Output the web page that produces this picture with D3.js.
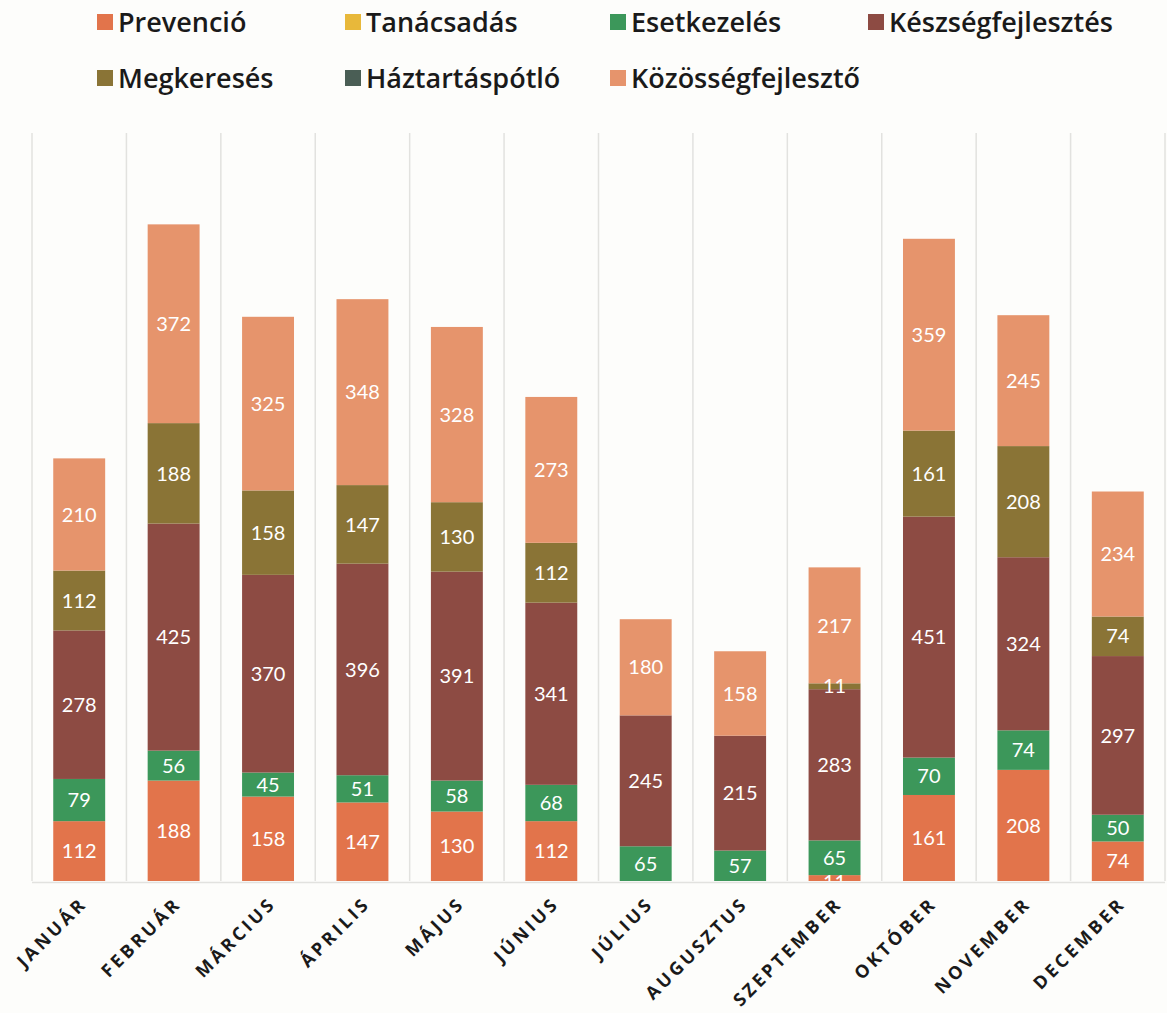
<!DOCTYPE html>
<html>
<head>
<meta charset="utf-8">
<script src="https://cdn.jsdelivr.net/npm/d3@7"></script>
<style>
  html, body { margin: 0; padding: 0; background: #fdfdfb; }
  svg { display: block; }
</style>
</head>
<body>
<svg id="chart" width="1167" height="1013"></svg>
<script>
const months = ["JANUÁR","FEBRUÁR","MÁRCIUS","ÁPRILIS","MÁJUS","JÚNIUS","JÚLIUS","AUGUSZTUS","SZEPTEMBER","OKTÓBER","NOVEMBER","DECEMBER"];
const seriesNames = ["Prevenció","Tanácsadás","Esetkezelés","Készségfejlesztés","Megkeresés","Háztartáspótló","Közösségfejlesztő"];
const prevencio     = [112,188,158,147,130,112,0,0,11,161,208,74];
const tanacsadas    = [0,0,0,0,0,0,0,0,0,0,0,0];
const esetkezeles   = [79,56,45,51,58,68,65,57,65,70,74,50];
const keszseg       = [278,425,370,396,391,341,245,215,283,451,324,297];
const megkereses    = [112,188,158,147,130,112,0,0,11,161,208,74];
const haztartas     = [0,0,0,0,0,0,0,0,0,0,0,0];
const kozosseg      = [210,372,325,348,328,273,180,158,217,359,245,234];
const colors = ["#e2744b","#e8b83a","#3c975a","#8d4b43","#8a7436","#4a5e55","#e6946c"];

const seriesValues = [prevencio,tanacsadas,esetkezeles,keszseg,megkereses,haztartas,kozosseg];
const table = months.map((m,i) => {
  const row = {month: m};
  seriesNames.forEach((s,j) => row[s] = seriesValues[j][i]);
  return row;
});

const svg = d3.select("#chart");
const x = d3.scaleBand().domain(months).range([32, 1165]).paddingInner(0.45).paddingOuter(0.225);
const y = d3.scaleLinear().domain([0, 1400]).range([881, 133]);
const color = d3.scaleOrdinal().domain(seriesNames).range(colors);

svg.append("defs").append("clipPath").attr("id", "plotClip")
  .append("rect").attr("x", 0).attr("y", 0).attr("width", 1167).attr("height", y(0));

// vertical gridlines (category separators)
const bounds = d3.range(months.length + 1).map(i => 32 + i * (1133 / months.length));
svg.append("g").selectAll("line").data(bounds).join("line")
  .attr("x1", d => d).attr("x2", d => d)
  .attr("y1", y(1400)).attr("y2", y(0))
  .attr("stroke", "#e2e2df").attr("stroke-width", 1.5);

// baseline
svg.append("line").attr("x1", 32).attr("x2", 1165).attr("y1", y(0) + 1.5).attr("y2", y(0) + 1.5)
  .attr("stroke", "#e2e2df").attr("stroke-width", 1.5);

const stack = d3.stack().keys(seriesNames)(table);

const layers = svg.append("g").selectAll("g").data(stack).join("g")
  .attr("fill", d => color(d.key));
layers.selectAll("rect").data(d => d).join("rect")
  .attr("x", d => x(d.data.month))
  .attr("width", x.bandwidth())
  .attr("y", d => y(d[1]))
  .attr("height", d => y(d[0]) - y(d[1]));

// value labels
const labels = svg.append("g").attr("clip-path", "url(#plotClip)");
stack.forEach(layer => {
  layer.forEach(d => {
    const v = d[1] - d[0];
    if (v <= 0) return;
    const small = (y(d[0]) - y(d[1])) < 14;
    labels.append("text")
      .attr("x", x(d.data.month) + x.bandwidth() / 2)
      .attr("y", (y(d[0]) + y(d[1])) / 2 + (small && d[0] === 0 ? 4 : 0))
      .attr("dy", "0.36em")
      .attr("text-anchor", "middle")
      .attr("fill", "#ffffff")
      .attr("font-family", "Lato, 'Open Sans', sans-serif")
      .attr("font-size", 20)
      .text(v);
  });
});

// x axis labels
const xAxis = svg.append("g").attr("transform", `translate(0, ${y(0) + 20})`)
  .call(d3.axisBottom(x).tickSize(0).tickPadding(0));
xAxis.select(".domain").remove();
xAxis.selectAll("text")
  .attr("font-family", "'Open Sans', sans-serif")
  .attr("font-weight", 700)
  .attr("font-size", 18)
  .attr("letter-spacing", "3.2px")
  .attr("fill", "#1a1a1a")
  .attr("text-anchor", "end")
  .attr("dy", "0.5em")
  .attr("dx", "0.2em")
  .attr("transform", "rotate(-45)");

// legend
const legendPos = [
  {x: 97, y: 22}, {x: 345, y: 22}, {x: 610, y: 22}, {x: 868, y: 22},
  {x: 97, y: 78}, {x: 345, y: 78}, {x: 610, y: 78}
];
const legend = svg.append("g");
seriesNames.forEach((s, i) => {
  const p = legendPos[i];
  const g = legend.append("g").attr("transform", `translate(${p.x},${p.y})`);
  g.append("rect").attr("x", 0).attr("y", -8).attr("width", 16).attr("height", 16).attr("fill", colors[i]);
  g.append("text").attr("x", 21).attr("y", 0).attr("dy", "0.36em")
    .attr("font-family", "'Open Sans', sans-serif")
    .attr("font-size", 27)
    .attr("font-weight", 600)
    .attr("fill", "#1a1a1a")
    .text(s);
});
</script>
</body>
</html>
